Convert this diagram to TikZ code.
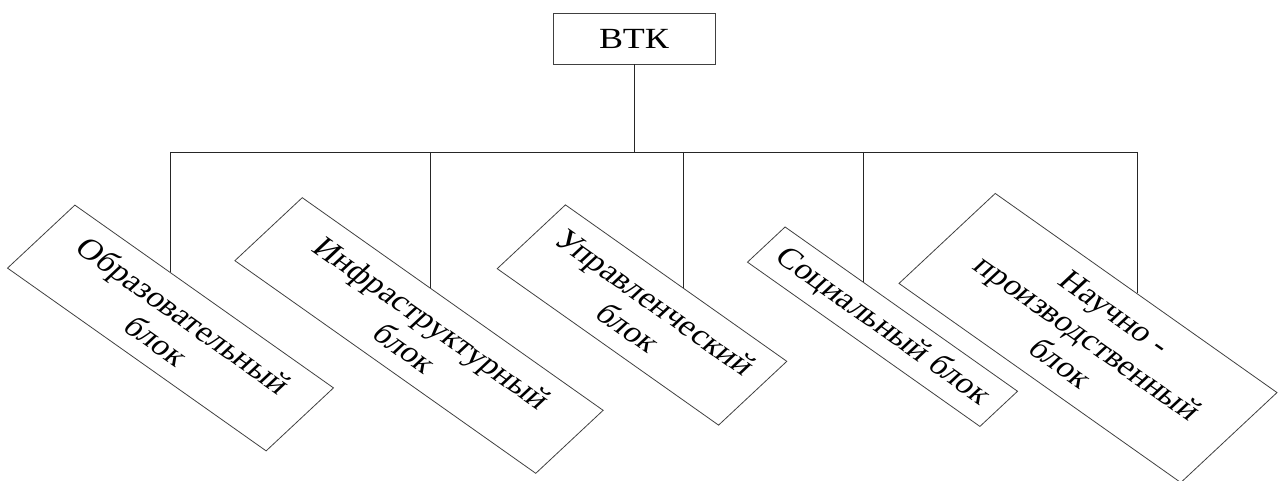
\documentclass[tikz,border=0pt]{standalone}
\usepackage{fontspec}
\setmainfont{Liberation Serif}
\usetikzlibrary{intersections}
\begin{document}
\begin{tikzpicture}[x=0.75pt,y=-0.75pt,
  frame/.style={draw=black!75, line width=0.6pt, align=center, inner sep=2pt,
    font=\fontsize{27}{31}\selectfont},
  blockbox/.style={frame, yscale=0.813, rotate=-41},
  conn/.style={draw=black!85, line width=0.7pt}]
\useasboundingbox (0,0) rectangle (1279,481);
\node[frame, yscale=0.813, minimum width=121.5pt, minimum height=47pt] (btk) at (634,38.5) {ВТК};
\node[blockbox, minimum width=257pt, minimum height=77pt] (b1) at (170.5,328) {Образовательный\\блок};
\node[blockbox, minimum width=299pt, minimum height=77pt] (b2) at (419,335.5) {Инфраструктурный\\блок};
\node[blockbox, minimum width=220pt, minimum height=78pt] (b3) at (642,315) {Управленческий\\блок};
\node[blockbox, minimum width=231pt, minimum height=43pt] (b4) at (882.5,326.7) {Социальный блок};
\node[blockbox, minimum width=280pt, minimum height=110pt] (b5) at (1088,338) {Научно -\\производственный\\блок};
\coordinate (busL) at (170,152);
\coordinate (busR) at (1137,152);
\draw[conn] (btk.south) -- (btk.south |- busL);
\draw[conn] (busL) -- (busR);
\foreach \i/\x in {1/170, 2/430, 3/683, 4/863, 5/1137} {
  \coordinate (d\i) at (\x,152);
  \path[name path=vline] (d\i) -- ++(0,400);
  \path[name path=tedge] (b\i.north west) -- (b\i.north east);
  \draw[conn, name intersections={of=vline and tedge, by=m\i}] (d\i) -- (m\i);
}
\end{tikzpicture}
\end{document}
